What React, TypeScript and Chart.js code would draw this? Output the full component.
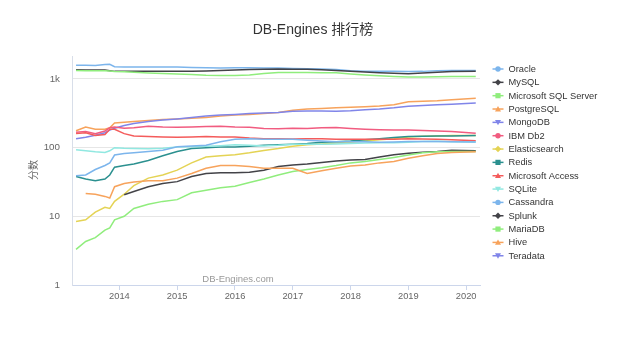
import { useEffect, useRef } from "react";
import { Chart, registerables } from "chart.js";

Chart.register(...registerables);

const TITLE = "DB-Engines 排行榜";
const Y_TITLE = "分数";
const CREDIT = "DB-Engines.com";

const dates = [
  "2013-04", "2013-06", "2013-08", "2013-10", "2013-11", "2013-12",
  "2014-02", "2014-04", "2014-07", "2014-10",
  "2015-01", "2015-04", "2015-07", "2015-10",
  "2016-01", "2016-04", "2016-07", "2016-10",
  "2017-01", "2017-04", "2017-07", "2017-10",
  "2018-01", "2018-04", "2018-07", "2018-10",
  "2019-01", "2019-04", "2019-07", "2019-10",
  "2020-03",
];

const yearTicks = [2014, 2015, 2016, 2017, 2018, 2019, 2020];
const scoreTicks = [1, 10, 100, 1000];

const seriesNames = [
  "Oracle", "MySQL", "Microsoft SQL Server", "PostgreSQL", "MongoDB",
  "IBM Db2", "Elasticsearch", "Redis", "Microsoft Access", "SQLite",
  "Cassandra", "Splunk", "MariaDB", "Hive", "Teradata",
];

const seriesColors = [
  "#7cb5ec", "#434348", "#90ed7d", "#f7a35c", "#8085e9",
  "#f15c80", "#e4d354", "#2b908f", "#f45b5b", "#91e8e1",
  "#7cb5ec", "#434348", "#90ed7d", "#f7a35c", "#8085e9",
];

const seriesSymbols = [
  "circle", "diamond", "square", "triangle", "triangle-down",
  "circle", "diamond", "square", "triangle", "triangle-down",
  "circle", "diamond", "square", "triangle", "triangle-down",
];

const oracle = [1590, 1580, 1570, 1620, 1640, 1510, 1500, 1500, 1500, 1495, 1490, 1470, 1460, 1450, 1460, 1460, 1450, 1440, 1420, 1405, 1400, 1370, 1320, 1300, 1300, 1290, 1280, 1290, 1320, 1330, 1330];
const mysql = [1360, 1355, 1350, 1350, 1320, 1290, 1290, 1290, 1290, 1290, 1295, 1300, 1310, 1330, 1350, 1370, 1380, 1400, 1390, 1380, 1360, 1330, 1300, 1260, 1230, 1210, 1195, 1220, 1250, 1280, 1290];
const sqlServer = [1330, 1320, 1320, 1320, 1310, 1280, 1270, 1250, 1220, 1200, 1180, 1160, 1130, 1120, 1120, 1140, 1200, 1240, 1240, 1240, 1235, 1230, 1180, 1140, 1110, 1090, 1070, 1070, 1080, 1090, 1090];
const postgres = [176, 200, 186, 186, 195, 228, 235, 240, 248, 258, 262, 268, 275, 290, 300, 305, 315, 325, 350, 365, 372, 382, 388, 395, 405, 420, 465, 475, 480, 500, 525];
const mongodb = [135, 142, 152, 165, 180, 192, 210, 225, 240, 252, 262, 275, 288, 298, 305, 315, 320, 325, 338, 342, 342, 340, 345, 355, 365, 380, 400, 410, 420, 430, 445];
const db2 = [167, 172, 160, 175, 195, 200, 192, 195, 205, 200, 198, 200, 203, 205, 200, 198, 190, 188, 192, 190, 195, 196, 190, 185, 182, 180, 180, 178, 175, 172, 162];
const elasticsearch = [8.4, 8.9, 11.5, 13.5, 13, 16.5, 21, 28, 36, 40, 47, 60, 73, 76, 79, 84, 91, 97, 105, 110, 113, 117, 120, 125, 130, 135, 143, 146, 148, 150, 150];
const redis = [38, 35, 33, 35, 40, 52, 55, 58, 65, 76, 88, 97, 100, 102, 102, 105, 108, 110, 112, 115, 120, 122, 125, 130, 135, 140, 145, 147, 148, 148, 150];
const access = [160, 165, 150, 155, 185, 185, 160, 148, 145, 143, 142, 143, 145, 143, 143, 138, 135, 135, 134, 135, 135, 133, 133, 132, 132, 133, 135, 134, 133, 130, 126];
const sqlite = [93, 90, 87, 85, 90, 100, 98, 97, 96, 98, 102, 103, 105, 107, 110, 108, 106, 108, 112, 112, 112, 113, 115, 117, 118, 118, 120, 123, 124, 122, 121];
const cassandra = [39, 40, 48, 55, 60, 78, 82, 84, 88, 92, 103, 106, 108, 122, 132, 135, 133, 132, 132, 128, 125, 122, 122, 122, 120, 121, 123, 123, 123, 122, 121];
const splunk = [null, null, null, null, null, null, 20.6, 23, 27, 30, 32, 38, 42, 43, 43, 44, 47, 53, 56, 58, 61, 64, 66, 67, 73, 79, 83, 86, 88, 92, 90];
const mariadb = [3.3, 4.3, 4.9, 6.3, 6.8, 8.9, 10, 13, 15, 16.5, 17.5, 22, 24, 26, 27.5, 31, 35, 40, 45, 48, 51, 55, 60, 63, 67, 72, 78, 84, 87, 88, 88];
const hive = [null, 21.5, 21, 19.5, 18.5, 27, 30, 31.5, 33, 33, 36, 42, 50, 55, 55, 53, 50, 50, 50, 42, 46, 50, 54, 56, 60, 63, 70, 76, 82, 85, 87];
const teradata: (number | null)[] = dates.map(() => null);

const seriesValues = [
  oracle, mysql, sqlServer, postgres, mongodb,
  db2, elasticsearch, redis, access, sqlite,
  cassandra, splunk, mariadb, hive, teradata,
];

const FONT = '"Liberation Sans", Arial, "Noto Sans CJK SC", sans-serif';

function toYear(d: string): number {
  const [y, m] = d.split("-").map(Number);
  return y + (m - 1) / 12;
}

function drawSymbol(ctx: CanvasRenderingContext2D, kind: string, x: number, y: number, color: string) {
  ctx.fillStyle = color;
  ctx.beginPath();
  if (kind === "circle") {
    ctx.arc(x, y, 2.7, 0, Math.PI * 2);
  } else if (kind === "diamond") {
    ctx.moveTo(x, y - 3.2);
    ctx.lineTo(x + 3.2, y);
    ctx.lineTo(x, y + 3.2);
    ctx.lineTo(x - 3.2, y);
    ctx.closePath();
  } else if (kind === "square") {
    ctx.rect(x - 2.6, y - 2.6, 5.2, 5.2);
  } else if (kind === "triangle") {
    ctx.moveTo(x, y - 3);
    ctx.lineTo(x + 3, y + 2.4);
    ctx.lineTo(x - 3, y + 2.4);
    ctx.closePath();
  } else {
    ctx.moveTo(x, y + 3);
    ctx.lineTo(x + 3, y - 2.4);
    ctx.lineTo(x - 3, y - 2.4);
    ctx.closePath();
  }
  ctx.fill();
}

const decorPlugin = {
  id: "decor",
  afterDraw(chart: any) {
    const ctx: CanvasRenderingContext2D = chart.ctx;
    ctx.save();
    // title
    ctx.font = `14px ${FONT}`;
    ctx.fillStyle = "#333333";
    ctx.textAlign = "center";
    ctx.textBaseline = "middle";
    ctx.fillText(TITLE, 313, 30);
    // y axis title
    ctx.save();
    ctx.translate(34, 170);
    ctx.rotate(-Math.PI / 2);
    ctx.font = `10px ${FONT}`;
    ctx.fillStyle = "#666666";
    ctx.fillText(Y_TITLE, 0, 0);
    ctx.restore();
    // credit
    ctx.font = `9.5px ${FONT}`;
    ctx.fillStyle = "#999999";
    ctx.fillText(CREDIT, 238, 279.5);
    // legend
    ctx.textAlign = "left";
    ctx.font = `9.3px ${FONT}`;
    seriesNames.forEach((name, i) => {
      const y = 69 + i * 13.34;
      ctx.strokeStyle = seriesColors[i];
      ctx.lineWidth = 1.5;
      ctx.beginPath();
      ctx.moveTo(492.5, y);
      ctx.lineTo(503.5, y);
      ctx.stroke();
      drawSymbol(ctx, seriesSymbols[i], 498, y, seriesColors[i]);
      ctx.fillStyle = "#333333";
      ctx.fillText(name, 508.5, y + 0.5);
    });
    ctx.restore();
  },
};

export default function App() {
  const ref = useRef<HTMLCanvasElement | null>(null);

  useEffect(() => {
    if (!ref.current) return;
    const xs = dates.map(toYear);
    const datasets = seriesNames.map((name, i) => ({
      label: name,
      data: xs.map((x, j) => ({ x, y: seriesValues[i][j] })),
      borderColor: seriesColors[i],
      backgroundColor: seriesColors[i],
      borderWidth: 1.5,
      pointRadius: 0,
      pointHoverRadius: 0,
      fill: false,
      tension: 0,
      spanGaps: false,
      order: seriesNames.length - i,
    }));

    const chart = new Chart(ref.current, {
      type: "line",
      data: { datasets },
      plugins: [decorPlugin],
      options: {
        animation: false,
        responsive: false,
        devicePixelRatio: 1,
        layout: { padding: { top: 56, right: 160, left: 0, bottom: 0 } },
        plugins: {
          legend: { display: false },
          title: { display: false },
          tooltip: { enabled: false },
        },
        scales: {
          x: {
            type: "linear",
            min: 2013.18,
            max: 2020.24,
            afterFit: (s: any) => { s.height = 66; },
            afterBuildTicks: (s: any) => { s.ticks = yearTicks.map((v) => ({ value: v })); },
            ticks: {
              autoSkip: false,
              maxRotation: 0,
              padding: 1,
              color: "#666666",
              font: { family: FONT, size: 9.3 },
              callback: (v: any) => String(v),
            },
            grid: {
              drawOnChartArea: false,
              drawTicks: true,
              tickLength: 5,
              color: "#ccd6eb",
            },
            border: { display: true, color: "#ccd6eb" },
          },
          y: {
            type: "logarithmic",
            min: 1,
            max: 2160,
            afterFit: (s: any) => { s.width = 72; },
            afterBuildTicks: (s: any) => { s.ticks = scoreTicks.map((v) => ({ value: v })); },
            ticks: {
              padding: 12,
              color: "#666666",
              font: { family: FONT, size: 9.8 },
              callback: (v: any) => (Number(v) === 1000 ? "1k" : String(v)),
            },
            grid: { drawTicks: false, color: "#e6e6e6" },
            border: { display: true, color: "#d8dee9" },
          },
        },
      },
    });
    return () => chart.destroy();
  }, []);

  return (
    <div style={{ position: "fixed", left: 0, top: 0, width: 640, height: 351, background: "#ffffff" }}>
      <canvas ref={ref} width={640} height={351} style={{ display: "block" }} />
    </div>
  );
}
